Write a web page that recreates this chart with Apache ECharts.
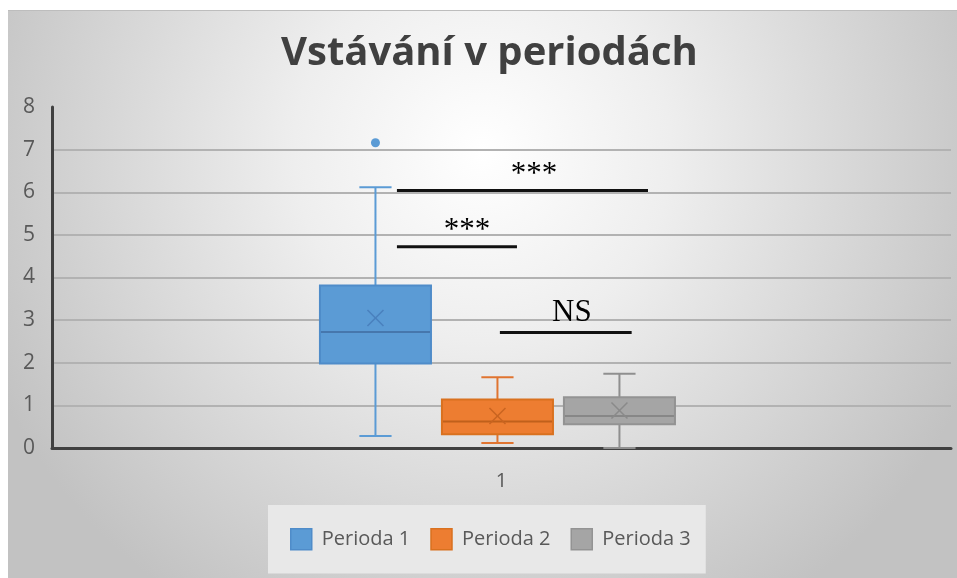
<!DOCTYPE html>
<html><head><meta charset="utf-8">
<script src="https://cdn.jsdelivr.net/npm/echarts@6/dist/echarts.min.js"></script>
<style>
html,body{margin:0;padding:0;background:#fff;width:957px;height:578px;overflow:hidden}
#c{position:absolute;left:8px;top:10px;width:949px;height:568px}
#edge{position:absolute;left:8px;top:10px;width:949px;height:1px;background:#bdbdbd;z-index:2}
</style></head>
<body><div id="c"></div><div id="edge"></div>
<script>
// ---------- data ----------
const categories = ['1'];
const seriesNames = ['Perioda 1', 'Perioda 2', 'Perioda 3'];
// [min, Q1, median, Q3, max]
const perioda1 = [0.28, 1.98, 2.72, 3.81, 6.12];
const perioda2 = [0.12, 0.32, 0.62, 1.14, 1.66];
const perioda3 = [0.00, 0.56, 0.75, 1.19, 1.74];
const means = [3.05, 0.75, 0.88];
const outliers1 = [7.16];
const outliers2 = [];
const outliers3 = [];
const sigLabels = ['***', '***', 'NS'];
const sigLevels = [6.04, 4.72, 2.71];

// ---------- layout / style ----------
const LAYOUT = { slot: 0.1357, shift: -0.0045, box: 0.1235, cap: 0.29 };
// significance bars, in box-slot units relative to the middle box
const SIG_LAYOUT = [
  { from: -0.824, to: 1.234, text: 0.30, dy: -16 },
  { from: -0.824, to: 0.16, text: -0.25, dy: -16 },
  { from: 0.02, to: 1.10, text: 0.61, dy: -20 }
];
const COLORS = [
  { fill: '#5b9bd5', edge: '#4f8cc9', median: '#4677ad', whisker: '#5b9bd5', mean: '#4a80bd' },
  { fill: '#ed7d31', edge: '#d9711f', median: '#c0601b', whisker: '#e07430', mean: '#c96420' },
  { fill: '#a5a5a5', edge: '#939393', median: '#878787', whisker: '#8f8f8f', mean: '#8a8a8a' }
];
const FONT = 'Open Sans';

function line(x1, y1, x2, y2, stroke, lw) {
  return { type: 'line', shape: { x1, y1, x2, y2 }, style: { stroke, lineWidth: lw } };
}

function makeBoxSeries(k, stats, mean, outliers) {
  const col = COLORS[k];
  return {
    name: seriesNames[k],
    type: 'custom',
    itemStyle: { color: col.fill, borderColor: col.edge, borderWidth: 1.5 },
    encode: { x: 0, y: [1, 2, 3, 4, 5, 6] },
    data: [[0].concat(stats, [mean])],
    renderItem(params, api) {
      const xi = api.value(0);
      const bw = api.size([1, 0])[0];
      const cx = api.coord([xi, 0])[0] + bw * (LAYOUT.shift + (k - 1) * LAYOUT.slot);
      const w = bw * LAYOUT.box, cw = w * LAYOUT.cap;
      const Y = v => api.coord([xi, v])[1];
      const mn = Y(api.value(1)), q1 = Y(api.value(2)), md = Y(api.value(3)),
            q3 = Y(api.value(4)), mx = Y(api.value(5)), mu = Y(api.value(6));
      const ch = [];
      ch.push(line(cx, mx, cx, q3, col.whisker, 2));
      ch.push(line(cx, q1, cx, mn, col.whisker, 2));
      ch.push(line(cx - cw / 2, mx, cx + cw / 2, mx, col.whisker, 2));
      ch.push(line(cx - cw / 2, mn, cx + cw / 2, mn, col.whisker, 2));
      ch.push({ type: 'rect', shape: { x: cx - w / 2, y: q3, width: w, height: q1 - q3 },
                style: { fill: col.fill, stroke: col.edge, lineWidth: 2 } });
      ch.push(line(cx - w / 2 + 1, md, cx + w / 2 - 1, md, col.median, 2));
      const m = 8;
      ch.push(line(cx - m, mu - m, cx + m, mu + m, col.mean, 1.5));
      ch.push(line(cx - m, mu + m, cx + m, mu - m, col.mean, 1.5));
      outliers.forEach(o => ch.push({ type: 'circle', shape: { cx, cy: Y(o), r: 4.5 }, style: { fill: col.fill } }));
      return { type: 'group', children: ch };
    }
  };
}

const sigSeries = {
  name: 'sig',
  type: 'custom',
  silent: true,
  encode: { x: 0, y: 1 },
  data: sigLevels.map(v => [0, v]),
  renderItem(params, api) {
    const i = params.dataIndex;
    const L = SIG_LAYOUT[i];
    const bw = api.size([1, 0])[0];
    const p = api.coord([api.value(0), api.value(1)]);
    const c0 = p[0] + bw * LAYOUT.shift;
    const s = bw * LAYOUT.slot;
    return {
      type: 'group',
      children: [
        line(c0 + L.from * s, p[1], c0 + L.to * s, p[1], '#111111', 3),
        { type: 'text', style: { text: sigLabels[i], x: c0 + L.text * s, y: p[1] + L.dy,
            align: 'center', verticalAlign: 'middle',
            font: '31px "Liberation Serif"', fill: '#000000' } }
      ]
    };
  }
};

const chart = echarts.init(document.getElementById('c'), null, { renderer: 'canvas' });
chart.setOption({
  animation: false,
  backgroundColor: {
    type: 'radial', x: 0.5, y: 0.25, r: 0.95,
    colorStops: [
      { offset: 0, color: '#ffffff' },
      { offset: 0.35, color: '#eeeeee' },
      { offset: 1, color: '#c2c2c2' }
    ]
  },
  title: {
    text: 'Vstávání v periodách',
    left: 268,
    top: 19,
    textStyle: { fontFamily: FONT, fontWeight: 'bold', fontSize: 40, color: '#404040' }
  },
  legend: {
    data: seriesNames.map((n, k) => ({ name: n, itemStyle: { color: COLORS[k].fill, borderColor: COLORS[k].edge, borderWidth: 1.5 } })),
    icon: 'rect',
    left: 260,
    top: 495,
    itemWidth: 21,
    itemHeight: 21,
    itemGap: 20,
    padding: [23, 15, 23, 22],
    backgroundColor: '#e8e8e8',
    selectedMode: false,
    textStyle: { fontFamily: FONT, fontSize: 20, color: '#595959', padding: [0, 0, 0, 5] }
  },
  grid: { left: 44, right: 6, top: 97, bottom: 130, containLabel: false },
  xAxis: {
    type: 'category',
    data: categories,
    axisLine: { show: true, lineStyle: { color: '#404040', width: 3 } },
    axisTick: { show: false },
    axisLabel: { fontFamily: FONT, fontSize: 20, color: '#595959', margin: 23 },
    splitLine: { show: false }
  },
  yAxis: {
    type: 'value',
    min: 0, max: 8, interval: 1,
    axisLine: { show: true, lineStyle: { color: '#404040', width: 3 } },
    axisTick: { show: false },
    axisLabel: { fontFamily: FONT, fontSize: 21, color: '#595959', margin: 17 },
    splitLine: { show: true, showMaxLine: false, lineStyle: { color: '#b2b2b2', width: 2 } }
  },
  series: [
    makeBoxSeries(0, perioda1, means[0], outliers1),
    makeBoxSeries(1, perioda2, means[1], outliers2),
    makeBoxSeries(2, perioda3, means[2], outliers3),
    sigSeries
  ]
});
</script>
</body></html>
